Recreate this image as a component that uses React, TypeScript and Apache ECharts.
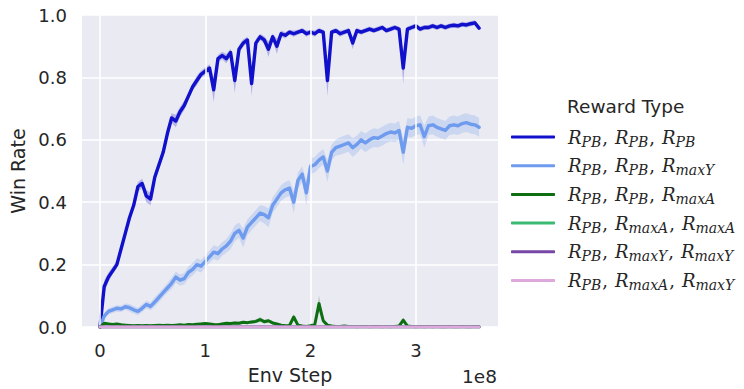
import React, { useEffect, useRef } from "react";
import * as echarts from "echarts";

// Env steps, in units of 1e8, shared by every curve
const stepsE8: number[] = Array.from({ length: 91 }, (_, i) => +(i * 0.04).toFixed(2));

// Mean win rate per reward configuration
const pbPbPb: number[] = [
  0, 0.13, 0.16, 0.18, 0.2, 0.25, 0.3, 0.35, 0.39, 0.45,
  0.46, 0.42, 0.41, 0.48, 0.52, 0.56, 0.62, 0.67, 0.66, 0.69,
  0.71, 0.74, 0.77, 0.79, 0.81, 0.82, 0.83, 0.76, 0.86, 0.87,
  0.86, 0.88, 0.79, 0.89, 0.91, 0.92, 0.78, 0.91, 0.93, 0.92,
  0.89, 0.93, 0.9, 0.94, 0.935, 0.945, 0.94, 0.945, 0.95, 0.94,
  0.945, 0.94, 0.95, 0.945, 0.79, 0.945, 0.95, 0.94, 0.945, 0.95,
  0.91, 0.95, 0.945, 0.95, 0.955, 0.95, 0.955, 0.96, 0.95, 0.955,
  0.96, 0.955, 0.83, 0.955, 0.96, 0.965, 0.955, 0.96, 0.96, 0.965,
  0.96, 0.965, 0.96, 0.965, 0.967, 0.965, 0.97, 0.968, 0.972, 0.975,
  0.958,
];
const pbPbPbSpread: number[] = [
  0, 0.02, 0.015, 0.012, 0.012, 0.012, 0.012, 0.012, 0.012, 0.015,
  0.015, 0.02, 0.02, 0.015, 0.015, 0.015, 0.015, 0.015, 0.02, 0.015,
  0.015, 0.012, 0.012, 0.015, 0.012, 0.012, 0.012, 0.04, 0.012, 0.012,
  0.015, 0.012, 0.04, 0.012, 0.012, 0.01, 0.04, 0.012, 0.01, 0.012,
  0.025, 0.01, 0.025, 0.01, 0.01, 0.008, 0.01, 0.008, 0.008, 0.01,
  0.008, 0.01, 0.008, 0.008, 0.05, 0.008, 0.008, 0.01, 0.008, 0.008,
  0.02, 0.008, 0.008, 0.008, 0.008, 0.008, 0.008, 0.008, 0.008, 0.008,
  0.008, 0.008, 0.05, 0.008, 0.008, 0.008, 0.008, 0.008, 0.008, 0.008,
  0.008, 0.008, 0.008, 0.008, 0.008, 0.008, 0.008, 0.008, 0.008, 0.008,
  0.008,
];

const pbPbMaxY: number[] = [
  0, 0.035, 0.05, 0.055, 0.06, 0.058, 0.065, 0.062, 0.055, 0.05,
  0.06, 0.072, 0.066, 0.08, 0.095, 0.11, 0.125, 0.14, 0.16, 0.15,
  0.155, 0.175, 0.185, 0.2, 0.195, 0.21, 0.225, 0.24, 0.235, 0.25,
  0.26, 0.275, 0.3, 0.31, 0.285, 0.32, 0.335, 0.35, 0.365, 0.36,
  0.35, 0.39, 0.41, 0.43, 0.44, 0.445, 0.4, 0.47, 0.49, 0.43,
  0.515, 0.52, 0.535, 0.545, 0.5, 0.56, 0.575, 0.58, 0.585, 0.59,
  0.575, 0.585, 0.6, 0.59, 0.6, 0.607, 0.605, 0.612, 0.62, 0.625,
  0.622, 0.63, 0.56, 0.64, 0.637, 0.645, 0.648, 0.61, 0.645, 0.648,
  0.64, 0.635, 0.63, 0.645, 0.648, 0.645, 0.652, 0.655, 0.65, 0.648,
  0.64,
];
const pbPbMaxYSpread: number[] = [
  0, 0.008, 0.01, 0.01, 0.01, 0.01, 0.01, 0.012, 0.012, 0.012,
  0.012, 0.012, 0.012, 0.015, 0.015, 0.015, 0.015, 0.018, 0.018, 0.018,
  0.018, 0.02, 0.02, 0.02, 0.02, 0.02, 0.02, 0.022, 0.022, 0.022,
  0.022, 0.025, 0.025, 0.025, 0.03, 0.025, 0.025, 0.025, 0.025, 0.028,
  0.03, 0.025, 0.025, 0.025, 0.025, 0.025, 0.035, 0.025, 0.025, 0.04,
  0.025, 0.025, 0.025, 0.025, 0.035, 0.025, 0.025, 0.028, 0.028, 0.028,
  0.03, 0.028, 0.028, 0.03, 0.03, 0.03, 0.03, 0.03, 0.03, 0.03,
  0.03, 0.03, 0.04, 0.03, 0.03, 0.03, 0.03, 0.035, 0.03, 0.03,
  0.03, 0.03, 0.03, 0.03, 0.03, 0.03, 0.03, 0.03, 0.03, 0.03,
  0.03,
];

const pbPbMaxA: number[] = [
  0, 0.012, 0.01, 0.008, 0.01, 0.007, 0.006, 0.005, 0.004, 0.005,
  0.004, 0.005, 0.004, 0.005, 0.006, 0.005, 0.006, 0.005, 0.006, 0.007,
  0.006, 0.008, 0.007, 0.009, 0.01, 0.011, 0.01, 0.008, 0.007, 0.01,
  0.012, 0.011, 0.013, 0.012, 0.015, 0.014, 0.016, 0.018, 0.024, 0.017,
  0.02, 0.013, 0.01, 0.006, 0.004, 0.005, 0.032, 0.006, 0.003, 0.002,
  0.004, 0.008, 0.075, 0.02, 0.006, 0.003, 0.002, 0.002, 0.003, 0.002,
  0.002, 0.001, 0.002, 0.002, 0.001, 0.002, 0.002, 0.001, 0.002, 0.001,
  0.002, 0.003, 0.022, 0.003, 0.002, 0.001, 0.002, 0.001, 0.002, 0.001,
  0.002, 0.001, 0.001, 0.002, 0.001, 0.001, 0.002, 0.001, 0.001, 0.002,
  0.001,
];
const pbPbMaxASpread: number[] = [
  0, 0.004, 0.004, 0.003, 0.003, 0.003, 0.003, 0.003, 0.003, 0.003,
  0.003, 0.003, 0.003, 0.003, 0.003, 0.003, 0.003, 0.003, 0.003, 0.003,
  0.003, 0.003, 0.003, 0.003, 0.004, 0.004, 0.004, 0.004, 0.004, 0.004,
  0.004, 0.004, 0.005, 0.005, 0.005, 0.005, 0.005, 0.006, 0.008, 0.006,
  0.006, 0.005, 0.004, 0.003, 0.003, 0.003, 0.01, 0.003, 0.002, 0.002,
  0.002, 0.004, 0.025, 0.008, 0.003, 0.002, 0.002, 0.002, 0.002, 0.002,
  0.002, 0.001, 0.002, 0.002, 0.001, 0.002, 0.002, 0.001, 0.002, 0.001,
  0.002, 0.002, 0.008, 0.002, 0.002, 0.001, 0.002, 0.001, 0.002, 0.001,
  0.002, 0.001, 0.001, 0.002, 0.001, 0.001, 0.002, 0.001, 0.001, 0.002,
  0.001,
];

// Configurations that never win: sampled sparsely, all at zero
const flatSteps: number[] = [0, 0.9, 1.8, 2.7, 3.6];
const pbMaxAMaxA: number[] = [0, 0, 0, 0, 0];
const pbMaxYMaxY: number[] = [0, 0, 0, 0, 0];
const pbMaxAMaxY: number[] = [0, 0, 0, 0, 0];

const xTicks: number[] = [0, 1, 2, 3];
const yTicks: number[] = [0, 0.2, 0.4, 0.6, 0.8, 1.0];

const TEXT = "#262626";

type Curve = {
  name: string;
  parts: [string, string][];
  color: string;
  width: number;
  xs: number[];
  ys: number[];
  spread?: number[];
};

const curves: Curve[] = [
  { name: "pb-pb-pb", parts: [["R", "PB"], ["R", "PB"], ["R", "PB"]], color: "#1111cc", width: 3.4, xs: stepsE8, ys: pbPbPb, spread: pbPbPbSpread },
  { name: "pb-pb-maxY", parts: [["R", "PB"], ["R", "PB"], ["R", "maxY"]], color: "#6f9bee", width: 3.4, xs: stepsE8, ys: pbPbMaxY, spread: pbPbMaxYSpread },
  { name: "pb-pb-maxA", parts: [["R", "PB"], ["R", "PB"], ["R", "maxA"]], color: "#0d6e12", width: 3, xs: stepsE8, ys: pbPbMaxA, spread: pbPbMaxASpread },
  { name: "pb-maxA-maxA", parts: [["R", "PB"], ["R", "maxA"], ["R", "maxA"]], color: "#3dba72", width: 3, xs: flatSteps, ys: pbMaxAMaxA },
  { name: "pb-maxY-maxY", parts: [["R", "PB"], ["R", "maxY"], ["R", "maxY"]], color: "#7747a8", width: 3, xs: flatSteps, ys: pbMaxYMaxY },
  { name: "pb-maxA-maxY", parts: [["R", "PB"], ["R", "maxA"], ["R", "maxY"]], color: "#dda8dc", width: 3, xs: flatSteps, ys: pbMaxAMaxY },
];

function legendLabel(name: string): string {
  const c = curves.find((k) => k.name === name);
  if (!c) return name;
  return (
    "{g|}" +
    c.parts
      .map(([base, sub], i) => `{R|${base}}{s|${sub}}` + (i < c.parts.length - 1 ? "{c|,}" : ""))
      .join("")
  );
}

function buildOption(): echarts.EChartsOption {
  const series: any[] = [];

  // Confidence bands, drawn as one polygon per curve
  curves.forEach((c, idx) => {
    if (!c.spread) return;
    const spread = c.spread;
    series.push({
      type: "custom",
      name: c.name + "-band",
      silent: true,
      z: 1 + idx * 2,
      clip: true,
      data: [0],
      renderItem: (params: any, api: any) => {
        const upper = c.xs.map((x, i) => api.coord([x, Math.min(1, c.ys[i] + spread[i])]));
        const lower = c.xs.map((x, i) => api.coord([x, Math.max(0, c.ys[i] - spread[i])])).reverse();
        return {
          type: "polygon",
          shape: { points: upper.concat(lower) },
          style: { fill: c.color, opacity: 0.25 },
        };
      },
    });
  });

  curves.forEach((c, idx) => {
    series.push({
      type: "line",
      name: c.name,
      data: c.xs.map((x, i) => [x, c.ys[i]]),
      showSymbol: false,
      symbol: "none",
      z: 2 + idx * 2,
      clip: true,
      lineStyle: { color: c.color, width: c.width, cap: "round", join: "round" },
      itemStyle: { color: c.color },
      emphasis: { disabled: true },
    });
  });

  // Vertical grid lines at the labelled steps
  series.push({
    type: "line",
    name: "xgrid",
    data: [],
    silent: true,
    z: 0,
    markLine: {
      silent: true,
      symbol: ["none", "none"],
      label: { show: false },
      lineStyle: { color: "#ffffff", width: 1.6, type: "solid" },
      data: xTicks.map((t) => ({ xAxis: t })),
    },
  });

  return {
    animation: false,
    backgroundColor: "#ffffff",
    grid: { left: 82, top: 15, right: 246, bottom: 61, backgroundColor: "#eaeaf2", show: true, borderWidth: 0 },
    xAxis: {
      type: "value",
      min: -0.171,
      max: 3.78,
      name: "Env Step",
      nameLocation: "middle",
      nameGap: 38,
      nameTextStyle: { color: TEXT, fontSize: 19, fontFamily: "DejaVu Sans" },
      axisLine: { show: false },
      axisTick: { show: false, customValues: xTicks },
      splitLine: { show: false },
      axisLabel: {
        customValues: xTicks,
        color: TEXT,
        fontSize: 18,
        fontFamily: "DejaVu Sans",
        margin: 14,
        formatter: (v: number) => String(Math.round(v)),
      },
    },
    yAxis: {
      type: "value",
      min: 0,
      max: 1,
      interval: 0.2,
      name: "Win Rate",
      nameLocation: "middle",
      nameGap: 55,
      nameTextStyle: { color: TEXT, fontSize: 19, fontFamily: "DejaVu Sans" },
      axisLine: { show: false },
      axisTick: { show: false },
      splitLine: { show: true, lineStyle: { color: "#ffffff", width: 1.6 } },
      axisLabel: {
        color: TEXT,
        fontSize: 18,
        fontFamily: "DejaVu Sans",
        margin: 15,
        formatter: (v: number) => yTicks.includes(+v.toFixed(1)) ? v.toFixed(1) : "",
      },
    },
    legend: {
      orient: "vertical",
      left: 506,
      top: 123,
      itemWidth: 44,
      itemHeight: 3,
      itemGap: 8.2,
      icon: "roundRect",
      data: curves.map((c) => c.name),
      selectedMode: false,
      formatter: legendLabel,
      textStyle: {
        color: TEXT,
        rich: {
          g: { width: 8 },
          R: { fontFamily: "DejaVu Serif", fontStyle: "italic", fontSize: 18, color: TEXT, height: 22 },
          s: { fontFamily: "DejaVu Serif", fontStyle: "italic", fontSize: 14, color: TEXT, padding: [9, 0, 0, 0] },
          c: { fontFamily: "DejaVu Serif", fontSize: 18, color: TEXT, padding: [0, 7, 0, 1] },
        },
      },
    },
    graphic: [
      {
        type: "text",
        left: 567,
        top: 97,
        style: { text: "Reward Type", fill: TEXT, fontSize: 18.5, fontFamily: "DejaVu Sans" },
      },
      {
        type: "text",
        right: 744 - 497,
        top: 367,
        style: { text: "1e8", fill: TEXT, fontSize: 18.5, fontFamily: "DejaVu Sans" },
      },
    ],
    series,
  };
}

export default function App() {
  const ref = useRef<HTMLDivElement>(null);
  useEffect(() => {
    if (!ref.current) return;
    const chart = echarts.init(ref.current, undefined, { renderer: "svg" });
    chart.setOption(buildOption());
    return () => chart.dispose();
  }, []);
  return (
    <div
      ref={ref}
      style={{ position: "fixed", left: 0, top: 0, width: 744, height: 389, background: "#ffffff" }}
    />
  );
}
